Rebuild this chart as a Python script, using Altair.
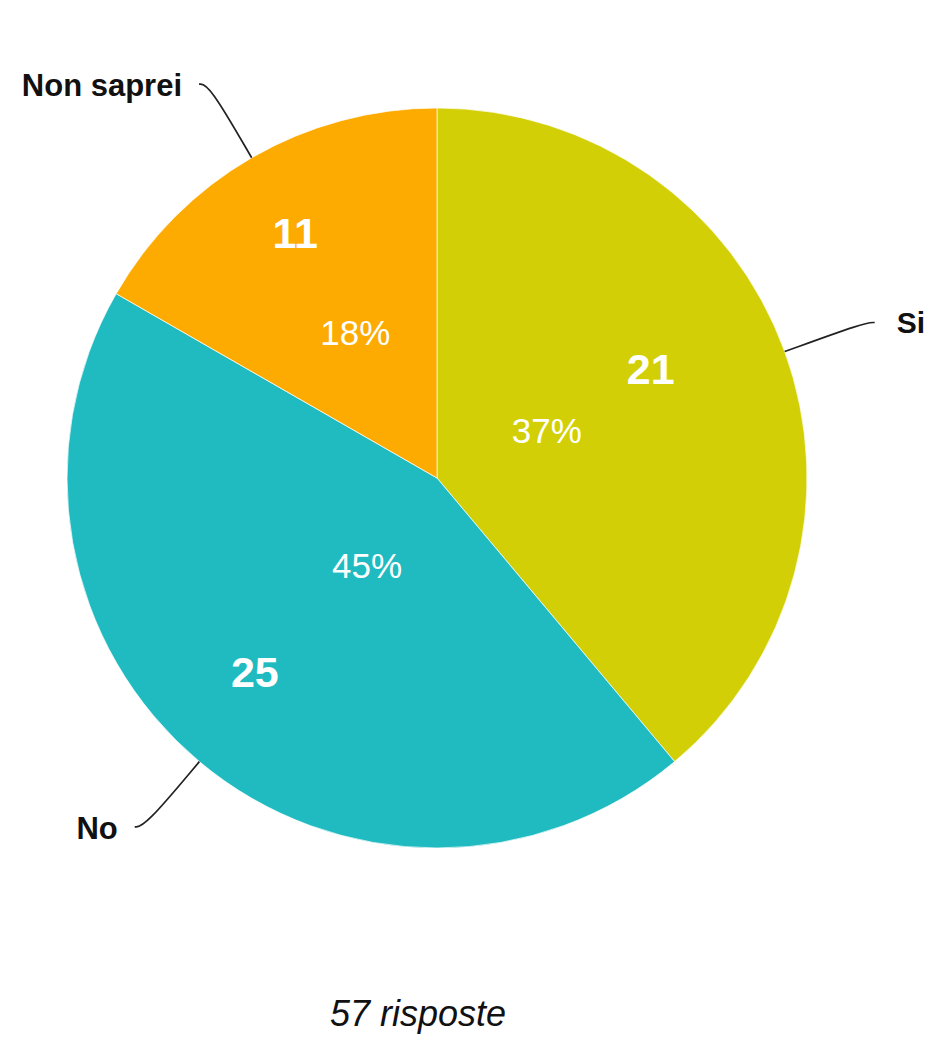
import altair as alt
import numpy as np
import pandas as pd

# ---- data ----
categories = ["Si", "No", "Non saprei"]
counts = [21, 25, 11]
percent_labels = ["37%", "45%", "18%"]
slice_share = [38.9, 44.4, 16.7]          # share of the circle as drawn (percent)
colors = ["#D3CF06", "#1FBBC0", "#FDAB00"]
total_text = f"{sum(counts)} risposte"

# ---- layout constants (pixels) ----
W, H = 918, 1027
CX, CY, R = 429, 470, 370
FONT = "Liberation Sans"

df = pd.DataFrame({
    "cat": categories,
    "count_txt": [str(c) for c in counts],
    "pct": percent_labels,
    "share": slice_share,
    "idx": list(range(len(categories))),
})

base = alt.Chart(df).encode(
    theta=alt.Theta("share:Q", stack=True),
    order=alt.Order("idx:Q"),
    detail="cat:N",
    x=alt.value(CX),
    y=alt.value(CY),
)

pie = base.mark_arc(outerRadius=R, stroke="#ffffff", strokeWidth=1, strokeOpacity=0.7).encode(
    color=alt.Color("cat:N", scale=alt.Scale(domain=categories, range=colors), legend=None)
)

# per-slice label placement (radius along the mid ray + small pixel nudges)
label_style = {
    "Si":         {"count": (238, -10, -26), "pct": (120, -3, -5)},
    "No":         {"count": (265, -12, -7),  "pct": (112, 2, 3)},
    "Non saprei": {"count": (283, 0, 2),     "pct": (167, 2, 1)},
}

text_layers = []
for cat in categories:
    r, dx, dy = label_style[cat]["count"]
    text_layers.append(
        base.mark_text(radius=r, dx=dx, dy=dy, font=FONT, fontSize=43, fontWeight="bold",
                       color="white", baseline="middle", align="center").encode(
            text=alt.condition(alt.datum.cat == cat, alt.Text("count_txt:N"), alt.value(""))
        )
    )
    r, dx, dy = label_style[cat]["pct"]
    text_layers.append(
        base.mark_text(radius=r, dx=dx, dy=dy, font=FONT, fontSize=35,
                       color="white", baseline="middle", align="center").encode(
            text=alt.condition(alt.datum.cat == cat, alt.Text("pct:N"), alt.value(""))
        )
    )

# ---- leader lines, derived from each slice's mid angle ----
mids = np.cumsum(slice_share) - np.array(slice_share) / 2
rows, lab_rows = [], []
for cat, mid in zip(categories, mids):
    a = mid / 100 * 2 * np.pi
    s, c = np.sin(a), np.cos(a)
    side = 1 if s > 0 else -1
    pts = [(s, c), (1.23 * s, 1.23 * c), (1.23 * s + side * 0.027, 1.23 * c)]
    for k, (px, py) in enumerate(pts):
        rows.append({"cat": cat, "k": k, "x": px, "y": py})
    lab_rows.append({"cat": cat, "x": pts[-1][0], "y": pts[-1][1],
                     "side": "right" if side > 0 else "left"})
lines_df = pd.DataFrame(rows)
labs_df = pd.DataFrame(lab_rows)

xs = alt.Scale(domain=[-CX / R, (W - CX) / R], nice=False, zero=False)
ys = alt.Scale(domain=[(CY - H) / R, CY / R], nice=False, zero=False)

leaders = alt.Chart(lines_df).mark_line(interpolate="basis", color="#222222", strokeWidth=1.7).encode(
    x=alt.X("x:Q", scale=xs, axis=None),
    y=alt.Y("y:Q", scale=ys, axis=None),
    detail="cat:N",
    order="k:Q",
)

lab_base = alt.Chart(labs_df).encode(
    x=alt.X("x:Q", scale=xs, axis=None),
    y=alt.Y("y:Q", scale=ys, axis=None),
    text="cat:N",
)
labels_right = lab_base.transform_filter(alt.datum.side == "right").mark_text(
    align="left", baseline="middle", dx=22, dy=2, font=FONT, fontSize=30, fontWeight="bold", color="#111111")
labels_left = lab_base.transform_filter(alt.datum.side == "left").mark_text(
    align="right", baseline="middle", dx=-17, dy=3, font=FONT, fontSize=31, fontWeight="bold", color="#111111")

total = alt.Chart(pd.DataFrame({"t": [total_text]})).mark_text(
    font=FONT, fontSize=36, fontStyle="italic", color="#111111", align="center", baseline="alphabetic"
).encode(text="t:N", x=alt.value(410), y=alt.value(1018))

chart = alt.layer(pie, *text_layers, leaders, labels_right, labels_left, total).properties(
    width=W, height=H, padding=0, autosize=alt.AutoSizeParams(type="none"), background="white"
).configure_view(stroke=None)

chart.save("out.html", embed_options={"renderer": "svg", "actions": False})
